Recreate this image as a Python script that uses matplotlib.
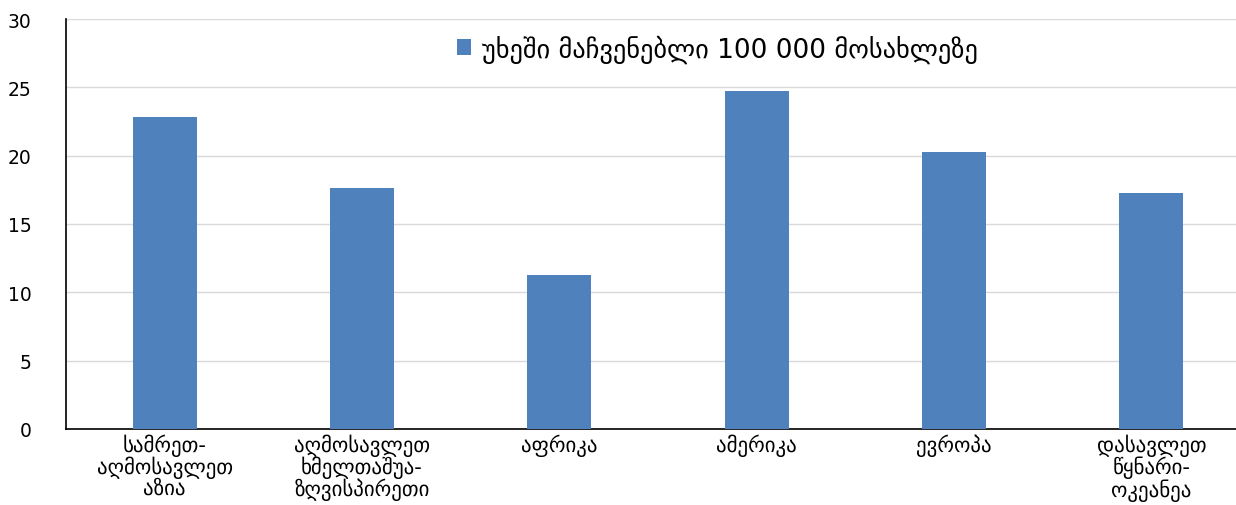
import matplotlib
matplotlib.use("Agg")
import matplotlib.pyplot as plt

categories = ["სამრეთ-\nაღმოსავლეთ\nაზია", "აღმოსავლეთ\nხმელთაშუა-\nზღვისპირეთი", "აფრიკა",
              "ამერიკა", "ევროპა", "დასავლეთ\nწყნარი-\nოკეანეა"]
values = [22.8, 17.6, 11.3, 24.7, 20.3, 17.3]
series_name = "უხეში მაჩვენებლი 100 000 მოსახლეზე"
yticks = [0, 5, 10, 15, 20, 25, 30]

plt.rcParams['font.family'] = ['DejaVu Sans']
fig = plt.figure(figsize=(12.36, 5.06), dpi=100)
ax = fig.add_axes([66/1236, 1 - 430/506, (1250-66)/1236, 410/506])

ax.bar(range(len(categories)), values, width=0.325, color="#4F81BD", label=series_name, zorder=3)
ax.set_xlim(-0.5, len(categories) - 0.5)
ax.set_ylim(0, 30)
ax.set_yticks(yticks)
ax.set_yticklabels([str(t) for t in yticks], fontsize=13.5)
ax.set_xticks(range(len(categories)))
ax.set_xticklabels(categories, fontsize=15, linespacing=1.0)
ax.tick_params(axis='both', length=0)
ax.tick_params(axis='y', pad=25)
ax.tick_params(axis='x', pad=3)
ax.grid(axis='y', color="#D9D9D9", linewidth=1, zorder=0)
for s in ['top', 'right']:
    ax.spines[s].set_visible(False)
ax.spines['left'].set_color('black')
ax.spines['bottom'].set_color('black')
ax.spines['left'].set_linewidth(1.2)
ax.spines['bottom'].set_linewidth(1.2)

ax.legend(loc='upper center', bbox_to_anchor=(0.55, 1.02), frameon=False, fontsize=19,
          handlelength=0.55, handleheight=0.55, handletextpad=0.4)

fig.savefig("out.png", dpi=100)
